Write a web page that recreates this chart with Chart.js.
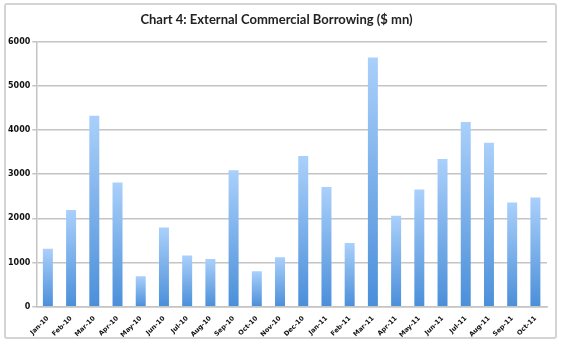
<!DOCTYPE html>
<html>
<head>
<meta charset="utf-8">
<script src="https://cdn.jsdelivr.net/npm/chart.js@4"></script>
<style>
  html, body { margin: 0; padding: 0; background: #fff; }
  #frame {
    position: absolute; left: 4px; top: 3px; width: 549px; height: 332px;
    border: 2px solid #d4d4d4; border-radius: 3px;
  }
  #wrap { position: absolute; left: 0; top: 0; width: 561px; height: 344px; }
</style>
</head>
<body>
<div id="frame"></div>
<div id="wrap"><canvas id="chart"></canvas></div>
<script>
// months on the x axis
const months = ["Jan-10", "Feb-10", "Mar-10", "Apr-10", "May-10", "Jun-10", "Jul-10", "Aug-10",
  "Sep-10", "Oct-10", "Nov-10", "Dec-10", "Jan-11", "Feb-11", "Mar-11", "Apr-11", "May-11",
  "Jun-11", "Jul-11", "Aug-11", "Sep-11", "Oct-11"];

// ECB amounts, $ mn
const ecb = [1310, 2190, 4320, 2810, 690, 1790, 1160, 1080, 3090, 800, 1120, 3410,
  2710, 1440, 5640, 2060, 2650, 3340, 4180, 3710, 2360, 2470];

const yTicks = [0, 1000, 2000, 3000, 4000, 5000, 6000];

// light at the top of every bar, darker at its foot
function barFill(ctx) {
  const chart = ctx.chart;
  const y = chart.scales.y;
  if (!chart.chartArea || !y || ctx.raw == null) return "#7fb2ea";
  const top = y.getPixelForValue(ctx.raw);
  const bottom = y.getPixelForValue(0);
  if (!isFinite(top) || bottom - top < 1) return "#7fb2ea";
  const g = chart.ctx.createLinearGradient(0, top, 0, bottom);
  g.addColorStop(0, "#aad0fb");
  g.addColorStop(1, "#4b8fd9");
  return g;
}

const ctx = document.getElementById("chart").getContext("2d");
new Chart(ctx, {
  type: "bar",
  data: {
    labels: months,
    datasets: [{
      data: ecb,
      backgroundColor: barFill,
      borderWidth: 0,
      barPercentage: 0.43,
      categoryPercentage: 1
    }]
  },
  options: {
    responsive: true,
    maintainAspectRatio: false,
    animation: false,
    layout: { padding: { left: 6, right: 14, top: 0, bottom: 5 } },
    plugins: {
      legend: { display: false },
      tooltip: { enabled: false },
      title: {
        display: true,
        text: "Chart 4: External Commercial Borrowing ($ mn)",
        color: "#222",
        font: { family: "Lato", size: 13, weight: "bold" },
        padding: { top: 12, bottom: 14 }
      }
    },
    scales: {
      x: {
        grid: { display: false },
        border: { display: true, color: "#c4c4c4", width: 1.5 },
        ticks: {
          color: "#111",
          font: { family: "Verdana, 'DejaVu Sans'", size: 6.5, weight: "bold" },
          minRotation: 45,
          maxRotation: 45,
          autoSkip: false,
          padding: 0
        }
      },
      y: {
        min: 0,
        max: 6000,
        afterBuildTicks: (axis) => { axis.ticks = yTicks.map(v => ({ value: v })); },
        grid: { color: "#c4c4c4", lineWidth: 1.5, tickLength: 4 },
        border: { display: true, color: "#c4c4c4", width: 1.5 },
        ticks: {
          color: "#111",
          font: { family: "Verdana, 'DejaVu Sans'", size: 8, weight: "bold" },
          padding: 2,
          callback: (v) => String(v)
        }
      }
    }
  }
});
</script>
</body>
</html>
